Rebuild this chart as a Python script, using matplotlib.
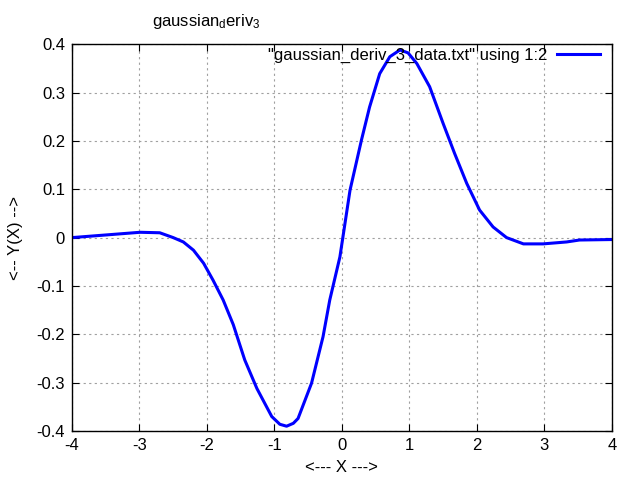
import matplotlib
matplotlib.use("Agg")
import matplotlib.pyplot as plt
from matplotlib.ticker import FormatStrFormatter

# points
xs = [-4.0, -3.54, -2.99, -2.70, -2.50, -2.35, -2.20, -2.05, -1.91, -1.76,
      -1.61, -1.44, -1.26, -1.04, -0.92, -0.82, -0.72, -0.65, -0.45, -0.28,
      -0.18, -0.03, 0.12, 0.29, 0.41, 0.56, 0.71, 0.86, 0.98, 1.11, 1.30,
      1.50, 1.67, 1.85, 2.04, 2.24, 2.44, 2.69, 2.98, 3.33, 3.52, 4.0]
ys = [0.0, 0.005, 0.011, 0.010, 0.000, -0.009, -0.026, -0.053, -0.088,
      -0.129, -0.180, -0.253, -0.312, -0.370, -0.386, -0.390, -0.384, -0.374,
      -0.301, -0.205, -0.129, -0.040, 0.098, 0.202, 0.270, 0.339, 0.374,
      0.388, 0.382, 0.360, 0.312, 0.236, 0.174, 0.112, 0.057, 0.022, 0.000,
      -0.013, -0.013, -0.009, -0.005, -0.004]

x_ticks = [-4, -3, -2, -1, 0, 1, 2, 3, 4]
y_ticks = [-0.4, -0.3, -0.2, -0.1, 0, 0.1, 0.2, 0.3, 0.4]

plt.rcParams["font.family"] = ["Liberation Sans", "DejaVu Sans"]
plt.rcParams["font.size"] = 12
plt.rcParams["axes.unicode_minus"] = False

fig = plt.figure(figsize=(6.4, 4.8), dpi=100)
ax = fig.add_axes([0.1125, 0.102, 0.8435, 0.806])

ax.plot(xs, ys, color="#0000ff", linewidth=2.2, solid_joinstyle="round",
        label='"gaussian_deriv_3_data.txt" using 1:2')

ax.set_xlim(-4, 4)
ax.set_ylim(-0.4, 0.4)
ax.set_xticks(x_ticks)
ax.set_yticks(y_ticks)
ax.xaxis.set_major_formatter(FormatStrFormatter("%g"))
ax.yaxis.set_major_formatter(FormatStrFormatter("%g"))
ax.tick_params(direction="in", top=True, right=True, length=5, width=0.8,
               pad=5)
ax.grid(True, color="#a0a0a0", linestyle=(0, (2, 3)), linewidth=0.8)
for s in ax.spines.values():
    s.set_linewidth(1.0)

ax.set_xlabel("<--- X --->", labelpad=5)
ax.set_ylabel("<-- Y(X) -->", labelpad=10)

leg = ax.legend(loc="upper right", frameon=False, markerfirst=False,
                handlelength=2.6, borderaxespad=0.0, borderpad=0.2,
                handletextpad=0.6)
leg.set_bbox_to_anchor((0.985, 1.0))

fig.text(0.322, 0.955, r"gaussian$\mathregular{_d}$eriv$\mathregular{_3}$",
         ha="center", va="center", fontsize=12)

fig.savefig("out.png", dpi=100)
